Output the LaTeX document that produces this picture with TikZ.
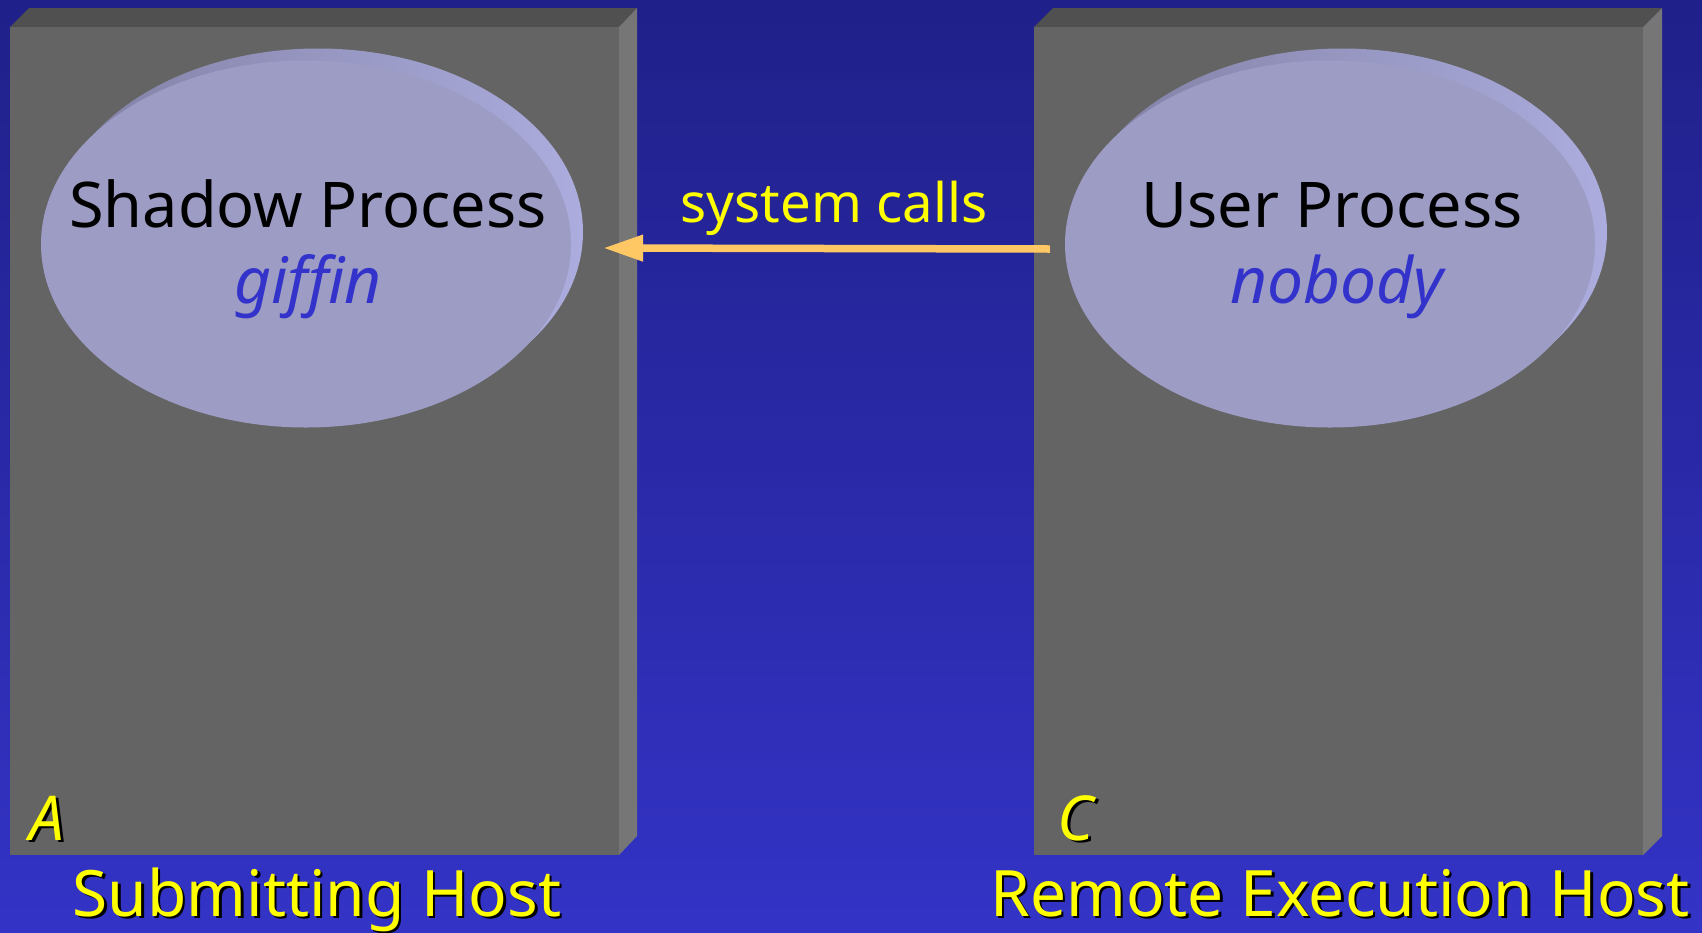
\documentclass[tikz,border=0pt]{standalone}
\usepackage{fontspec}
\setmainfont{Noto Sans}
\newfontfamily\cf{Noto Sans}
\usetikzlibrary{arrows.meta,shapes.geometric}
\definecolor{bgtop}{RGB}{32,32,138}
\definecolor{bgbot}{RGB}{51,51,198}
\definecolor{frontc}{RGB}{100,100,100}
\definecolor{topc}{RGB}{80,80,80}
\definecolor{sidec}{RGB}{118,118,118}
\definecolor{discc}{RGB}{156,156,196}
\definecolor{rimtop}{RGB}{128,128,164}
\definecolor{rimright}{RGB}{172,172,222}
\definecolor{arrowc}{RGB}{255,200,100}
\definecolor{userblue}{RGB}{51,51,204}
\definecolor{labely}{RGB}{255,255,0}
\tikzset{
  frontface/.style={fill=frontc},
  topface/.style={fill=topc},
  sideface/.style={fill=sidec},
  discface/.style={ellipse, fill=discc, inner sep=0pt, minimum width=530pt, minimum height=367pt},
  discrim/.style={ellipse, left color=rimtop, right color=rimright, inner sep=0pt, minimum width=530pt, minimum height=367pt},
  proc/.style={anchor=base, text=black, font=\cf\fontsize{63}{70}\selectfont, inner sep=0pt},
  usr/.style={anchor=base, text=userblue, font=\cf\itshape\fontsize{64}{70}\selectfont, inner sep=0pt},
  hostlbl/.style={anchor=base, text=labely, font=\cf\fontsize{64}{70}\selectfont, inner sep=0pt},
  hostshadow/.style={anchor=base, text=black, font=\cf\fontsize{64}{70}\selectfont, inner sep=0pt},
  letterlbl/.style={anchor=base, text=labely, font=\cf\bfseries\itshape\fontsize{62}{70}\selectfont, inner sep=0pt},
  lettershadow/.style={anchor=base, text=black, font=\cf\bfseries\itshape\fontsize{62}{70}\selectfont, inner sep=0pt},
  calllbl/.style={anchor=base, text=labely, font=\cf\fontsize{54.5}{62}\selectfont, inner sep=0pt},
  callarrow/.style={draw=arrowc, line width=7.5pt, -{Triangle[length=40pt,width=25pt]}}
}
\begin{document}
\begin{tikzpicture}[x=1pt,y=-1pt]
\useasboundingbox (0,0) rectangle (1702,932);
\shade[top color=bgtop,bottom color=bgbot] (0,0) rectangle (1702,932);
% left box
\fill[topface] (10,27) -- (29,8) -- (637,8) -- (619,27) -- cycle;
\fill[sideface] (619,27) -- (637,8) -- (637,836) -- (619,855) -- cycle;
\fill[frontface] (10,27) rectangle (619,855);
% right box
\fill[topface] (1034,27) -- (1053,8) -- (1662,8) -- (1643,27) -- cycle;
\fill[sideface] (1643,27) -- (1662,8) -- (1662,836) -- (1643,855) -- cycle;
\fill[frontface] (1034,27) rectangle (1643,855);
% discs
\node[discrim] (shadowrim) at (318,232) {};
\node[discface] (shadow) at (306,244) {};
\node[discrim] (userrim) at (1342,232) {};
\node[discface] (user) at (1330,244) {};
% texts in discs
\node[proc] (shadowname) at (308,227) {Shadow Process};
\node[usr] (shadowuser) at (308,303) {\addfontfeature{Ligatures=NoCommon}giffin};
\node[proc] (username) at (1332,227) {User Process};
\node[usr] (useruser) at (1337,303) {nobody};
% arrow
\draw[callarrow] ([shift={(-15pt,-5pt)}]user.west) -- ([shift={(20pt,-16pt)}]shadowrim.east);
\node[calllbl] (calls) at (834,222) {system calls};
% host letters
\node[lettershadow] (ashadow) at (49.5,842.5) {A};
\node[letterlbl] (alabel) at (47,840) {A};
\node[lettershadow] (cshadow) at (1078.5,842.5) {C};
\node[letterlbl] (clabel) at (1076,840) {C};
% host names
\node[hostshadow] (subshadow) at (319.5,918.5) {Submitting Host};
\node[hostlbl] (sublabel) at (317,916) {Submitting Host};
\node[hostshadow] (remshadow) at (1342.5,918.5) {Remote Execution Host};
\node[hostlbl] (remlabel) at (1340,916) {Remote Execution Host};
\end{tikzpicture}
\end{document}
